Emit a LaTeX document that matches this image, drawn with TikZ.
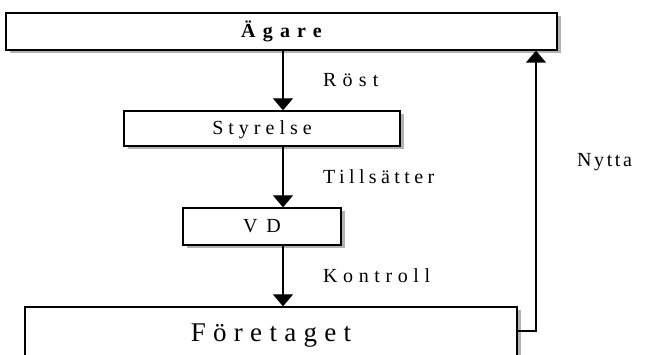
\documentclass[tikz,border=0pt]{standalone}
\usepackage{fontspec}
\setmainfont{Liberation Serif}
\usetikzlibrary{arrows.meta,shadows}
\newcommand{\lsp}[2]{{\addfontfeatures{LetterSpace=#1}#2}}
\tikzset{
  box/.style={draw=black, line width=1.3pt, fill=white, rectangle, inner sep=0pt,
    text height=13pt, text depth=0pt, font=\fontsize{20}{22}\selectfont,
    drop shadow={shadow xshift=4pt, shadow yshift=-3pt, fill=gray!60, opacity=1}},
  arr/.style={line width=1.3pt, -{Triangle[width=20pt,length=12pt]}},
  lbl/.style={anchor=base west, inner sep=0pt, font=\fontsize{20}{22}\selectfont},
}
\begin{document}
\begin{tikzpicture}[x=1pt,y=-1pt]
\useasboundingbox (0,0) rectangle (646,355);
\clip (0,0) rectangle (646,355);
\node[box, minimum width=551pt, minimum height=37pt, font=\bfseries\fontsize{20}{22}\selectfont] (aga) at (281.5,31.5) {\lsp{36}{Ägare}};
\node[box, minimum width=276pt, minimum height=35pt] (sty) at (262,128.5) {\lsp{25}{Styrelse}};
\node[box, minimum width=158pt, minimum height=37pt] (vd) at (262,226.5) {\lsp{45}{VD}};
\node[box, minimum width=492pt, minimum height=52pt, font=\fontsize{27}{30}\selectfont, text height=18pt] (foe) at (271,333) {\lsp{27}{Företaget}};
\coordinate (ax) at (283,0);
\coordinate (ny) at (536,331);
\draw[arr] (aga.south -| ax) -- (sty.north -| ax);
\draw[arr] (sty.south -| ax) -- (vd.north -| ax);
\draw[arr] (vd.south -| ax) -- (foe.north -| ax);
\draw[arr] (foe.east |- ny) -- (ny) -- (aga.south -| ny);
\node[lbl] (rost) at (323,87) {\lsp{31}{Röst}};
\node[lbl] (till) at (323,184) {\lsp{22}{Tillsätter}};
\node[lbl] (kont) at (323,283) {\lsp{28}{Kontroll}};
\node[lbl] (nytta) at (577,167) {\lsp{13}{Nytta}};
\end{tikzpicture}
\end{document}
